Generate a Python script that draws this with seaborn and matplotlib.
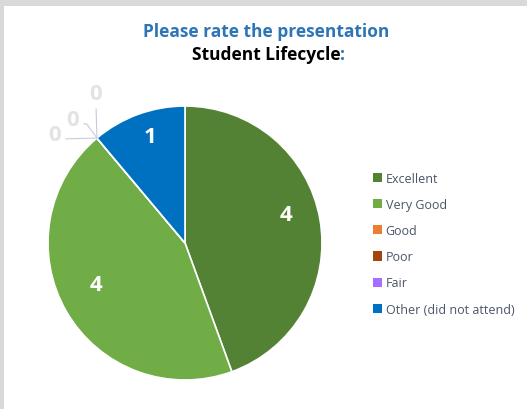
import matplotlib.pyplot as plt
import seaborn as sns
import numpy as np
from matplotlib.patches import Rectangle, Patch

categories = ['Excellent', 'Very Good', 'Good', 'Poor', 'Fair', 'Other (did not attend)']
counts = [4, 4, 0, 0, 0, 1]
colors = ['#548235', '#70AD47', '#ED7D31', '#9E480E', '#A56EFF', '#0070C0']

sns.set_style('white')
plt.rcParams['font.family'] = ['Open Sans', 'DejaVu Sans']

fig = plt.figure(figsize=(5.27, 4.10), dpi=100)
fig.patch.set_facecolor('#D9D9D9')
fig.patches.append(Rectangle((4 / 527, 0), 1, 1 - 7 / 410, transform=fig.transFigure,
                             facecolor='white', edgecolor='none', zorder=-1))

# pie centre (185, 243) px, radius 137 px
ax = fig.add_axes([(185 - 137) / 527, (410 - 244 - 137) / 410, 274 / 527, 274 / 410])
ax.set_zorder(2)
ax.patch.set_alpha(0)
wedges, _ = ax.pie(counts, colors=colors, startangle=90, counterclock=False,
                   wedgeprops={'edgecolor': 'white', 'linewidth': 1.2})
ax.set_xlim(-1, 1)
ax.set_ylim(-1, 1)
ax.set_aspect('equal')

# value labels
zero_style = [
    dict(xytext=(-0.95, 0.79), relpos=(1, 0.3), conn='arc3'),
    dict(xytext=(-0.82, 0.90), relpos=(1, 0.3), conn='angle,angleA=0,angleB=126,rad=0'),
    dict(xytext=(-0.65, 1.09), relpos=(0.5, 0.0), conn='arc3'),
]
zi = 0
for w, v in zip(wedges, counts):
    ang = np.deg2rad((w.theta1 + w.theta2) / 2)
    if v > 0:
        r = 0.75
        ax.text(r * np.cos(ang), r * np.sin(ang) + 0.075, str(v), ha='center', va='center',
                color='white', fontsize=16, fontweight='bold')
    else:
        st = zero_style[zi]
        ax.annotate(str(v), xy=(np.cos(ang), np.sin(ang)), xytext=st['xytext'],
                    ha='center', va='center', color='#E3E3E3', fontsize=16,
                    fontweight='bold', annotation_clip=False,
                    arrowprops=dict(arrowstyle='-', color='#C5CCDA', lw=0.8,
                                    shrinkA=1, shrinkB=0, relpos=st['relpos'],
                                    connectionstyle=st['conn']))
        zi += 1

fig.text(0.505, 1 - 32 / 410, 'Please rate the presentation', ha='center', va='center',
         color='#2E75B6', fontsize=12.5, fontweight='bold')
t2 = fig.text(0.505, 1 - 55 / 410, 'Student Lifecycle', ha='center', va='center',
              color='black', fontsize=12.5, fontweight='bold')
fig.canvas.draw()
bb = t2.get_window_extent()
fig.text(bb.x1 / 527, 1 - 55 / 410, ':', ha='left', va='center',
         color='#2E75B6', fontsize=12.5, fontweight='bold')

handles = [Patch(facecolor=c, edgecolor='none') for c in colors]
leg = fig.legend(handles, categories, loc='upper left', bbox_to_anchor=(373 / 527, 1 - 173 / 410),
                 frameon=False, fontsize=9, handlelength=0.75, handleheight=0.75,
                 handletextpad=0.25, labelspacing=1.05, borderpad=0, borderaxespad=0)
for t in leg.get_texts():
    t.set_color('#4A5568')

fig.savefig('out.png', dpi=100, facecolor=fig.get_facecolor())
